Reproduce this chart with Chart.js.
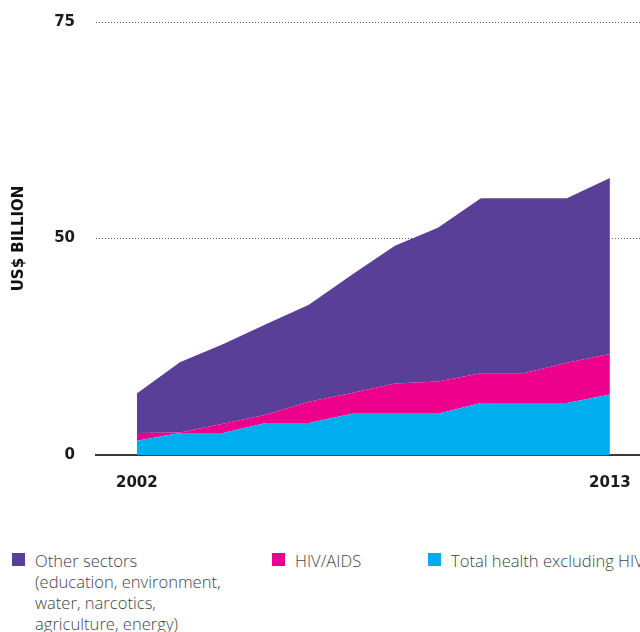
<!DOCTYPE html>
<html>
<head>
<meta charset="utf-8">
<script src="https://cdn.jsdelivr.net/npm/chart.js@4"></script>
<style>
  html, body { margin: 0; padding: 0; background: #fff; width: 640px; height: 632px; overflow: hidden; }
  #wrap { position: relative; width: 640px; height: 632px; }
  #chartBox { position: absolute; left: 0; top: 0; width: 640px; height: 500px; }
  #legend { position: absolute; left: 0; top: 550px; width: 640px; font-family: "Open Sans", Lato, sans-serif; font-weight: 300; font-size: 16.6px; line-height: 21px; color: #454545; }
  .item { position: absolute; top: 0; white-space: nowrap; }
  .sw { position: absolute; left: 0; top: 3px; width: 13px; height: 13px; }
  .txt { position: absolute; left: 23px; top: 0; }
</style>
</head>
<body>
<div id="wrap">
  <div id="chartBox"><canvas id="c" width="640" height="500"></canvas></div>
  <div id="legend"></div>
</div>
<script>
// Development assistance by sector, US$ billion, 2002-2013
const years = [2002, 2003, 2004, 2005, 2006, 2007, 2008, 2009, 2010, 2011, 2012, 2013];
const healthExclHiv = [3.3, 5.1, 5.1, 7.4, 7.4, 9.5, 9.5, 9.5, 12.0, 12.0, 12.0, 14.0];
const hivAids = [1.8, 0.1, 2.1, 1.9, 4.9, 4.8, 7.0, 7.5, 6.9, 6.9, 9.3, 9.3];
const otherSectors = [9.1, 16.2, 18.4, 20.9, 22.4, 27.3, 31.8, 35.5, 40.4, 40.4, 38.0, 40.7];

const xTickYears = [2002, 2013];
const yTickValues = [0, 50, 100];
const yTickLabels = ['0', '50', '75'];

const seriesNames = {
  other: ['Other sectors', '(education, environment,', 'water, narcotics,', 'agriculture, energy)'],
  hiv: ['HIV/AIDS'],
  health: ['Total health excluding HIV/AIDS']
};
const colors = { other: '#5a3f98', hiv: '#ec008c', health: '#00aeef' };

const toPoints = arr => arr.map((v, i) => ({ x: years[i], y: v }));

const tickFont = { family: '"DejaVu Sans", sans-serif', size: 15, weight: 'bold' };

new Chart(document.getElementById('c'), {
  type: 'line',
  data: {
    datasets: [
      { label: seriesNames.health.join(' '), data: toPoints(healthExclHiv), backgroundColor: colors.health, fill: 'origin' },
      { label: seriesNames.hiv.join(' '), data: toPoints(hivAids), backgroundColor: colors.hiv, fill: '-1' },
      { label: seriesNames.other.join(' '), data: toPoints(otherSectors), backgroundColor: colors.other, fill: '-1' }
    ]
  },
  options: {
    responsive: false,
    animation: false,
    events: [],
    layout: { padding: { top: 22, right: 0, bottom: 0, left: 0 } },
    elements: {
      line: { tension: 0, borderWidth: 0, borderColor: 'rgba(0,0,0,0)' },
      point: { radius: 0 }
    },
    plugins: { legend: { display: false }, tooltip: { enabled: false } },
    scales: {
      x: {
        type: 'linear',
        min: 2001.05,
        max: 2013.7,
        grid: { display: false, drawTicks: false, tickLength: 0 },
        border: { display: true, color: '#3a3a3a', width: 2, dash: [] },
        afterBuildTicks: s => { s.ticks = xTickYears.map(v => ({ value: v })); },
        afterFit: s => { s.height = 45; s.paddingLeft = 0; s.paddingRight = 0; },
        ticks: {
          padding: 19,
          maxRotation: 0,
          autoSkip: false,
          color: '#1a1a1a',
          font: tickFont,
          callback: v => String(v)
        }
      },
      y: {
        stacked: true,
        min: 0,
        max: 100,
        afterBuildTicks: s => { s.ticks = yTickValues.map(v => ({ value: v })); },
        afterFit: s => { s.width = 96; s.paddingTop = 0; s.paddingBottom = 0; },
        grid: {
          drawTicks: false,
          tickLength: 0,
          lineWidth: 1,
          color: ctx => (ctx.tick && ctx.tick.value === 0) ? 'rgba(0,0,0,0)' : '#555'
        },
        border: { display: false, dash: [1, 2] },
        ticks: {
          padding: 21,
          color: '#1a1a1a',
          font: tickFont,
          callback: (v, i) => yTickLabels[i]
        },
        title: {
          display: true,
          text: 'US$ BILLION',
          color: '#111',
          font: { family: '"DejaVu Sans", sans-serif', size: 15, weight: 'bold' },
          padding: { top: 10, bottom: 0 }
        }
      }
    }
  }
});

// Legend built from the same series names and colours
const legend = document.getElementById('legend');
const legendItems = [
  { key: 'other', left: 12 },
  { key: 'hiv', left: 272 },
  { key: 'health', left: 428 }
];
legendItems.forEach(it => {
  const d = document.createElement('div');
  d.className = 'item';
  d.style.left = it.left + 'px';
  const sw = document.createElement('div');
  sw.className = 'sw';
  sw.style.background = colors[it.key];
  const t = document.createElement('div');
  t.className = 'txt';
  t.innerHTML = seriesNames[it.key].map(s => s.replace(/&/g, '&amp;').replace(/</g, '&lt;')).join('<br>');
  d.appendChild(sw);
  d.appendChild(t);
  legend.appendChild(d);
});
</script>
</body>
</html>
